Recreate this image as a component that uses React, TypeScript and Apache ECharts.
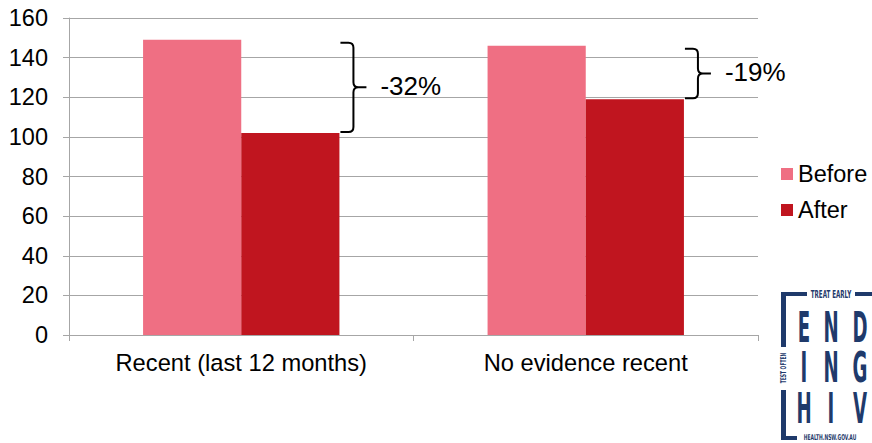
import React, { useEffect, useRef } from "react";
import * as echarts from "echarts";

const categories = ["Recent (last 12 months)", "No evidence recent"];
const beforeValues = [149, 146];
const afterValues = [102, 119];
const changeLabels = ["-32%", "-19%"];
const seriesNames = ["Before", "After"];
const logoRows = ["END", "ING", "HIV"];

const FONT = "'Liberation Sans', Arial, sans-serif";
const NAVY = "#1F3A6B";
const GRID_COLOR = "#a6a6a6";

export default function App() {
  const ref = useRef<HTMLDivElement>(null);

  useEffect(() => {
    if (!ref.current) return;
    const chart = echarts.init(ref.current, undefined, { renderer: "svg" });

    const braceData = categories.map((_, i) => [i, beforeValues[i], afterValues[i]]);

    const letterX = [804, 831, 860];
    const rowY = [327, 367, 408];
    const logoLetters: any[] = [];
    logoRows.forEach((row, r) => {
      row.split("").forEach((ch, c) => {
        logoLetters.push({
          type: "text",
          x: letterX[c],
          y: rowY[r],
          scaleX: 0.48,
          style: {
            text: ch,
            fill: NAVY,
            font: "bold 42px 'DejaVu Sans Condensed', 'DejaVu Sans', sans-serif",
            textAlign: "center",
            textVerticalAlign: "middle",
          },
        });
      });
    });

    const option: any = {
      animation: false,
      textStyle: { fontFamily: FONT },
      grid: { left: 69, right: 114, top: 18, bottom: 108, containLabel: false },
      legend: {
        data: seriesNames,
        orient: "vertical",
        left: 781,
        top: 162,
        padding: 0,
        itemWidth: 12,
        itemHeight: 12,
        itemGap: 12,
        icon: "rect",
        textStyle: { fontSize: 23.5, color: "#000", fontFamily: FONT, lineHeight: 23 },
      },
      xAxis: {
        type: "category",
        data: categories,
        axisLine: { lineStyle: { color: GRID_COLOR } },
        axisTick: { show: true, length: 6, lineStyle: { color: GRID_COLOR } },
        axisLabel: { fontSize: 23.7, color: "#000", margin: 16, fontFamily: FONT },
      },
      yAxis: {
        type: "value",
        min: 0,
        max: 160,
        interval: 20,
        axisLine: { show: true, lineStyle: { color: GRID_COLOR } },
        axisTick: { show: true, length: 6, lineStyle: { color: GRID_COLOR } },
        axisLabel: { fontSize: 23.5, color: "#000", margin: 21, fontFamily: FONT },
        splitLine: { lineStyle: { color: GRID_COLOR } },
      },
      series: [
        {
          name: seriesNames[0],
          type: "bar",
          data: beforeValues,
          barGap: "0%",
          barCategoryGap: "43%",
          itemStyle: { color: "#EF6F83" },
        },
        {
          name: seriesNames[1],
          type: "bar",
          data: afterValues,
          barGap: "0%",
          barCategoryGap: "43%",
          itemStyle: { color: "#C0151F" },
        },
        {
          type: "custom",
          silent: true,
          z: 10,
          clip: false,
          data: braceData,
          renderItem: (params: any, api: any) => {
            const idx = api.value(0);
            const top = api.coord([idx, api.value(1)]);
            const bot = api.coord([idx, api.value(2)]);
            const band = api.size([1, 0])[0];
            const edge = top[0] + band * 0.285;
            const xL = edge + 1;
            const xV = edge + 14;
            const xT = edge + 27;
            const yT = top[1] + 3;
            const yB = bot[1] - 1;
            const ym = (yT + yB) / 2;
            const r = 5;
            const d =
              `M${xL},${yT} L${xV - r},${yT} Q${xV},${yT} ${xV},${yT + r} ` +
              `L${xV},${ym - r} Q${xV},${ym} ${xV + r},${ym} L${xT},${ym} ` +
              `M${xV + r},${ym} Q${xV},${ym} ${xV},${ym + r} ` +
              `L${xV},${yB - r} Q${xV},${yB} ${xV - r},${yB} L${xL},${yB}`;
            return {
              type: "group",
              children: [
                {
                  type: "path",
                  shape: { pathData: d },
                  style: { stroke: "#000", lineWidth: 2, fill: "none" },
                },
                {
                  type: "text",
                  x: xT + 14,
                  y: ym - 1,
                  style: {
                    text: changeLabels[params.dataIndex],
                    fill: "#000",
                    font: `26px ${FONT}`,
                    textAlign: "left",
                    textVerticalAlign: "middle",
                  },
                },
              ],
            };
          },
        },
      ],
      graphic: [
        { type: "rect", shape: { x: 781, y: 292, width: 26, height: 4 }, style: { fill: NAVY } },
        { type: "rect", shape: { x: 855, y: 292, width: 17, height: 4 }, style: { fill: NAVY } },
        { type: "rect", shape: { x: 781, y: 292, width: 5, height: 55 }, style: { fill: NAVY } },
        { type: "rect", shape: { x: 781, y: 390, width: 5, height: 50 }, style: { fill: NAVY } },
        { type: "rect", shape: { x: 781, y: 436, width: 16, height: 4 }, style: { fill: NAVY } },
        {
          type: "text",
          x: 831,
          y: 294.5,
          scaleX: 0.62,
          style: {
            text: "TREAT EARLY",
            fill: NAVY,
            font: "bold 10px 'DejaVu Sans Condensed', 'DejaVu Sans', sans-serif",
            textAlign: "center",
            textVerticalAlign: "middle",
          },
        },
        {
          type: "text",
          x: 784,
          y: 368,
          rotation: Math.PI / 2,
          scaleX: 0.62,
          style: {
            text: "TEST OFTEN",
            fill: NAVY,
            font: "bold 8px 'DejaVu Sans Condensed', 'DejaVu Sans', sans-serif",
            textAlign: "center",
            textVerticalAlign: "middle",
          },
        },
        {
          type: "text",
          x: 830,
          y: 437.5,
          scaleX: 0.62,
          style: {
            text: "HEALTH.NSW.GOV.AU",
            fill: NAVY,
            font: "bold 8px 'DejaVu Sans Condensed', 'DejaVu Sans', sans-serif",
            textAlign: "center",
            textVerticalAlign: "middle",
          },
        },
        ...logoLetters,
      ],
    };

    chart.setOption(option);
    return () => chart.dispose();
  }, []);

  return (
    <div
      ref={ref}
      style={{ position: "fixed", left: 0, top: 0, width: 872, height: 443, background: "#fff" }}
    />
  );
}
